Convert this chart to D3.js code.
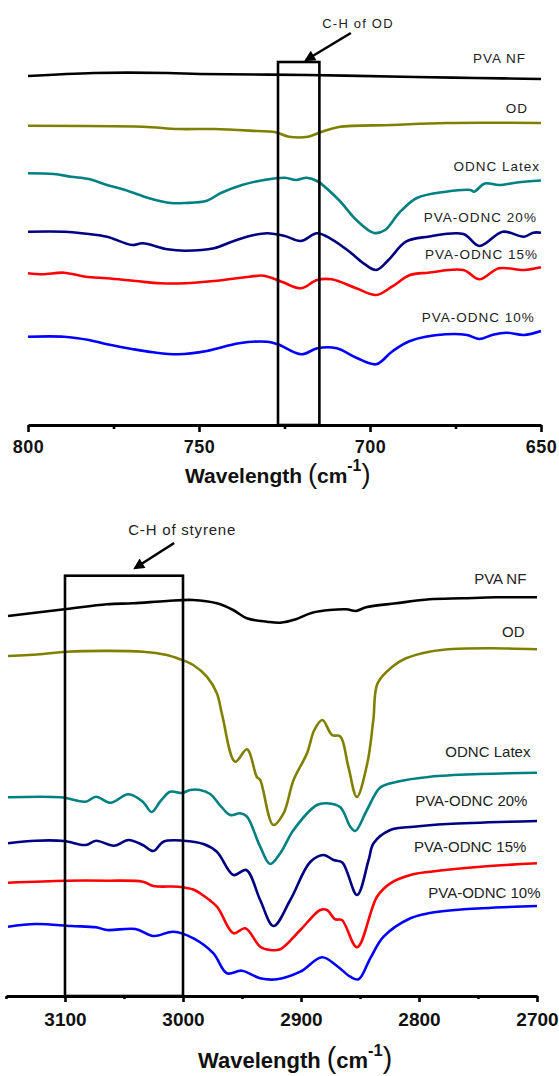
<!DOCTYPE html>
<html>
<head>
<meta charset="utf-8">
<script src="https://cdn.jsdelivr.net/npm/d3@7"></script>
<style>
  body { margin: 0; background: #fff; }
  svg { display: block; }
</style>
</head>
<body>
<div id="chart"></div>
<script>
// ---- data: [wavenumber (cm-1), transmittance offset (a.u.)] ----
const seriesNames = ['PVA NF', 'OD', 'ODNC Latex', 'PVA-ODNC 20%', 'PVA-ODNC 15%', 'PVA-ODNC 10%'];

// 800-650 cm-1 region
const topPvaNf = [[800,34.9],[780.7,35.2],[759.1,35.2],[749.7,35.1],[718.4,35.0],[686.8,34.8],[669.3,34.7],[650,34.6]];
const topOd = [[800,29.93],[766.5,29.83],[756.1,29.6],[745.6,29.6],[733,29.4],[727.9,29.3],[723.7,28.83],[718.1,28.83],[714.3,29.3],[709.1,29.8],[693.6,30.0],[677.8,30.2],[650,30.2]];
const topOdncLatex = [[800,25.17],[792.5,25.1],[787.4,24.83],[782.2,24.6],[776.9,24.0],[771.6,23.5],[764.3,22.65],[758.2,22.2],[754.1,22.2],[747.7,22.43],[743.6,23.2],[737.4,24.0],[731,24.5],[724.9,24.73],[721.6,24.5],[718.5,24.73],[715.5,24.4],[709.1,22.5],[704,20.5],[698.8,19.2],[695.6,19.5],[691.5,21.2],[686.3,22.7],[677.8,23.33],[670.6,23.5],[669.6,23.33],[666.4,24.15],[662.3,24.0],[657,24.25],[650,24.45]];
const topOdnc20 = [[800,19.33],[789.5,19.33],[782.2,19.1],[776.9,18.83],[769.6,18.0],[766.5,18.17],[759.2,17.57],[754.1,17.43],[745.6,17.67],[740.4,18.33],[735.2,18.9],[730.1,19.17],[724.9,18.9],[720.2,18.4],[715.5,19.17],[711.2,18.57],[706,17.33],[701.9,16.17],[698.2,15.5],[694.6,16.5],[689.5,18.33],[683,18.83],[672.7,19.1],[668,17.9],[661.2,19.33],[655,18.83],[652.3,19.23],[650,19.23]];
const topOdnc15 = [[800,15.17],[795.7,15.07],[789.5,15.23],[783.2,14.83],[776.9,14.67],[768.6,14.4],[761.3,14.17],[754.1,14.17],[745.6,14.4],[735.2,14.83],[731,14.93],[725.8,14.33],[720.2,13.67],[715.5,14.5],[711.2,14.57],[704,13.67],[698.2,13.0],[693.6,13.83],[688.3,15.0],[683,15.23],[672.7,15.5],[668,14.57],[662.3,15.67],[655,15.5],[650,15.77]];
const topOdnc10 = [[800,8.83],[789.5,8.83],[782.2,8.5],[776.9,8.07],[769.6,7.6],[763.4,7.27],[756.1,7.07],[747.7,7.4],[738.3,8.17],[730,8.33],[726.9,8.07],[720.1,7.07],[715.4,7.67],[709.7,7.67],[704,6.73],[698.2,6.07],[693.6,7.33],[688.3,8.4],[677.9,9.07],[671.6,9.0],[668,8.6],[664.3,9.0],[660.2,9.23],[655,9.0],[650,9.4]];

// 3150-2700 cm-1 region
const botPvaNf = [[3148.3,38.0],[3098.7,38.7],[3064.3,39.17],[3042.3,39.27],[3013.7,39.5],[2991.4,39.6],[2971.3,39.27],[2957.5,38.6],[2945.8,37.77],[2928.9,37.43],[2917.6,37.33],[2904.3,37.67],[2890.5,38.33],[2861.9,38.67],[2853.4,38.5],[2844.9,38.87],[2819.5,39.27],[2791.2,39.67],[2763.2,39.77],[2734.6,39.87],[2700,39.87]];
const botOd = [[3148.3,34.0],[3118.6,34.2],[3098.5,34.43],[3033.8,34.43],[3013.7,34.1],[3002.4,33.67],[2991.4,33.1],[2979.8,31.93],[2971.3,30.27],[2966.8,28.1],[2955.8,23.43],[2945.8,24.67],[2937.4,21.9],[2934.6,21.6],[2923.5,17.1],[2914.8,18.27],[2906.3,21.6],[2894.9,24.27],[2888.7,26.6],[2881.9,27.6],[2873.7,26.1],[2866.7,25.95],[2859.9,22.93],[2852.7,19.9],[2843.8,23.27],[2838.7,27.6],[2835.1,31.27],[2822.6,32.93],[2811,33.77],[2791.2,34.43],[2771.7,34.7],[2737.8,34.77],[2700,34.67]];
const botOdncLatex = [[3148.3,19.87],[3103.7,19.87],[3082.5,19.43],[3073.7,19.93],[3061.4,19.33],[3046.3,20.17],[3034.1,19.43],[3026.6,18.4],[3019.4,19.43],[3010.9,20.43],[3001,20.3],[2993.9,20.6],[2985.5,20.6],[2977,20.2],[2967.6,18.93],[2960,18.1],[2951.5,18.27],[2945.8,17.93],[2934.6,14.93],[2926.1,13.2],[2917.6,14.27],[2906.3,16.6],[2886.5,19.1],[2878,19.27],[2866.7,18.87],[2858.2,16.93],[2854,16.5],[2844.1,18.6],[2832.8,20.85],[2818.6,21.43],[2790.4,21.93],[2747.9,22.2],[2700,22.33]];
const botOdnc20 = [[3148.3,15.27],[3124.8,15.53],[3100.8,15.5],[3082.5,15.1],[3073.7,15.53],[3058.4,15.03],[3046.3,15.6],[3034.1,15.1],[3025.1,14.5],[3016.6,15.43],[2999.6,15.53],[2982.7,15.2],[2971.3,14.43],[2957.2,12.1],[2946.4,12.6],[2934.6,9.6],[2923.3,7.0],[2909.1,9.6],[2892.2,13.4],[2880.9,14.1],[2872.4,13.6],[2865,13.35],[2852.5,10.1],[2842.7,13.6],[2838.5,15.27],[2824.3,16.6],[2804.5,16.93],[2776.2,17.2],[2700,17.5]];
const botOdnc15 = [[3148.3,11.33],[3099.1,11.53],[3064.3,11.53],[3034.1,11.43],[3025.1,11.0],[3004.1,10.93],[2991.8,10.67],[2985.5,10.27],[2971.3,8.93],[2957.2,6.27],[2947.2,6.77],[2934.6,4.93],[2926.1,4.6],[2917.6,4.67],[2900.6,6.6],[2883.7,8.6],[2878,8.6],[2871,7.67],[2865.3,7.6],[2852.5,4.87],[2835.6,9.93],[2824.3,11.27],[2807.3,12.1],[2790.4,12.43],[2747.9,12.93],[2700,13.27]];
const botOdnc10 = [[3148.3,6.93],[3124.8,7.2],[3094.6,7.0],[3073.7,6.87],[3064.3,6.6],[3040.2,6.7],[3025.1,6.0],[3008.1,6.43],[2991.1,5.77],[2974.2,4.27],[2962.8,2.27],[2950.1,2.53],[2934.6,1.77],[2920.4,1.67],[2900.6,2.43],[2882.2,3.87],[2869.5,3.0],[2858.2,1.93],[2851.2,1.67],[2841.3,3.77],[2830,5.93],[2807.3,7.77],[2792.2,8.27],[2761.9,8.67],[2700,9.0]];

// tick labels
const topTicks = [800, 750, 700, 650];
const topMinorTicks = [775, 725, 675];
const botTicks = [3100, 3000, 2900, 2800, 2700];
const botMinorTicks = [3150, 3050, 2950, 2850, 2750];

// ---- styling / layout ----
const width = 559, height = 1076;
const colors = ['#000000', '#808000', '#008080', '#000080', '#ff0000', '#0000ff'];
const fontFamily = '"Liberation Sans", Arial, sans-serif';

const svg = d3.select('#chart')
  .append('svg')
  .attr('width', width)
  .attr('height', height);

const defs = svg.append('defs');
defs.append('marker')
  .attr('id', 'arrowhead')
  .attr('viewBox', '0 0 10 10')
  .attr('refX', 8)
  .attr('refY', 5)
  .attr('markerUnits', 'userSpaceOnUse')
  .attr('markerWidth', 13)
  .attr('markerHeight', 11)
  .attr('orient', 'auto')
  .append('path')
  .attr('d', 'M0,0 L10,5 L0,10 z')
  .attr('fill', '#000');

function drawPanel(cfg) {
  const x = d3.scaleLinear().domain(cfg.xDomain).range(cfg.xRange);
  const y = d3.scaleLinear().domain(cfg.yDomain).range(cfg.yRange);
  const g = svg.append('g');

  const line = d3.line()
    .curve(d3.curveCatmullRom.alpha(0.5))
    .x(d => x(d[0]))
    .y(d => y(d[1]));

  // spectra
  cfg.series.forEach((s, i) => {
    g.append('path')
      .datum(s)
      .attr('fill', 'none')
      .attr('stroke', colors[i])
      .attr('stroke-width', 2.6)
      .attr('stroke-linejoin', 'round')
      .attr('d', line);
  });

  // highlight box
  g.append('rect')
    .attr('x', x(cfg.box[0]))
    .attr('y', y(cfg.box[2]))
    .attr('width', x(cfg.box[1]) - x(cfg.box[0]))
    .attr('height', y(0) - y(cfg.box[2]))
    .attr('fill', 'none')
    .attr('stroke', '#000')
    .attr('stroke-width', 2.6);

  // arrow + annotation
  g.append('line')
    .attr('x1', x(cfg.arrow[0][0]))
    .attr('y1', y(cfg.arrow[0][1]))
    .attr('x2', x(cfg.arrow[1][0]))
    .attr('y2', y(cfg.arrow[1][1]))
    .attr('stroke', '#000')
    .attr('stroke-width', 2.6)
    .attr('marker-end', 'url(#arrowhead)');

  g.append('text')
    .attr('x', x(cfg.note.at[0]))
    .attr('y', y(cfg.note.at[1]))
    .attr('text-anchor', 'middle')
    .attr('font-family', fontFamily)
    .attr('font-size', cfg.note.size)
    .attr('letter-spacing', cfg.note.spacing)
    .attr('fill', '#222')
    .text(cfg.note.text);

  // series labels
  cfg.labels.forEach((p, i) => {
    g.append('text')
      .attr('x', x(p[0]))
      .attr('y', y(p[1]))
      .attr('text-anchor', 'end')
      .attr('font-family', fontFamily)
      .attr('font-size', cfg.labelSize)
      .attr('letter-spacing', cfg.labelSpacing)
      .attr('fill', '#222')
      .text(seriesNames[i]);
  });

  // x axis (major)
  const axisY = y(0);
  const major = g.append('g')
    .attr('transform', `translate(0,${axisY})`)
    .call(d3.axisBottom(x)
      .tickValues(cfg.ticks)
      .tickSize(cfg.majorTick)
      .tickSizeOuter(0)
      .tickPadding(cfg.tickPad)
      .tickFormat(d3.format('d')));
  major.select('.domain').attr('stroke-width', 2.8).attr('stroke', '#000');
  major.selectAll('.tick line').attr('stroke-width', 2.6).attr('stroke', '#000');
  major.selectAll('.tick text')
    .attr('font-family', fontFamily)
    .attr('font-size', cfg.tickFont)
    .attr('font-weight', 'bold')
    .attr('letter-spacing', cfg.tickSpacing)
    .attr('fill', '#111');

  // minor ticks
  const minor = g.append('g')
    .attr('transform', `translate(0,${axisY})`)
    .call(d3.axisBottom(x)
      .tickValues(cfg.minorTicks)
      .tickSize(cfg.minorTick)
      .tickSizeOuter(0)
      .tickFormat(''));
  minor.select('.domain').remove();
  minor.selectAll('.tick line').attr('stroke-width', 2.6).attr('stroke', '#000');

  // axis title
  const s = cfg.title.size;
  const t = g.append('text')
    .attr('x', cfg.title.x)
    .attr('y', cfg.title.y)
    .attr('font-family', fontFamily)
    .attr('font-weight', 'bold')
    .attr('font-size', s)
    .attr('fill', '#111');
  t.append('tspan').text('Wavelength ');
  t.append('tspan').attr('font-size', s * 1.3).attr('font-weight', 'normal').text('(');
  t.append('tspan').text('cm');
  t.append('tspan').attr('font-size', s * 0.75).attr('dy', -s * 0.55).text('-1');
  t.append('tspan').attr('font-size', s * 1.3).attr('font-weight', 'normal').attr('dy', s * 0.55).text(')');
}

drawPanel({
  xDomain: [800, 650], xRange: [28, 541],
  yDomain: [0, 42.5], yRange: [425, 0],
  series: [topPvaNf, topOd, topOdncLatex, topOdnc20, topOdnc15, topOdnc10],
  box: [726.9, 714.8, 36.3],
  arrow: [[705.6, 39.2], [718.7, 36.5]],
  note: { text: 'C-H of OD', at: [703.5, 39.7], size: 13, spacing: 1.2 },
  labels: [[654.4, 36.2], [653.8, 31.2], [650.3, 25.4], [651.2, 20.3], [650.9, 16.6], [651.8, 10.3]],
  labelSize: 13.5, labelSpacing: 1,
  ticks: topTicks, minorTicks: topMinorTicks,
  majorTick: 7, minorTick: 4, tickPad: 8, tickFont: 18, tickSpacing: 0.5,
  title: { x: 185, y: 483, size: 21 }
});

drawPanel({
  xDomain: [3150, 2700], xRange: [6, 537],
  yDomain: [0, 52], yRange: [996, 476],
  series: [botPvaNf, botOd, botOdncLatex, botOdnc20, botOdnc15, botOdnc10],
  box: [3100, 3000, 42.03],
  arrow: [[3007.5, 45.3], [3040.6, 42.8]],
  note: { text: 'C-H of styrene', at: [3000.7, 46.1], size: 15, spacing: 0.8 },
  labels: [[2709, 41.2], [2710.6, 35.9], [2705.6, 23.9], [2708.1, 19.0], [2709, 14.4], [2697, 9.8]],
  labelSize: 15, labelSpacing: 0,
  ticks: botTicks, minorTicks: botMinorTicks,
  majorTick: 6, minorTick: 3, tickPad: 11, tickFont: 19, tickSpacing: 0,
  title: { x: 198, y: 1068, size: 22 }
});
</script>
</body>
</html>
